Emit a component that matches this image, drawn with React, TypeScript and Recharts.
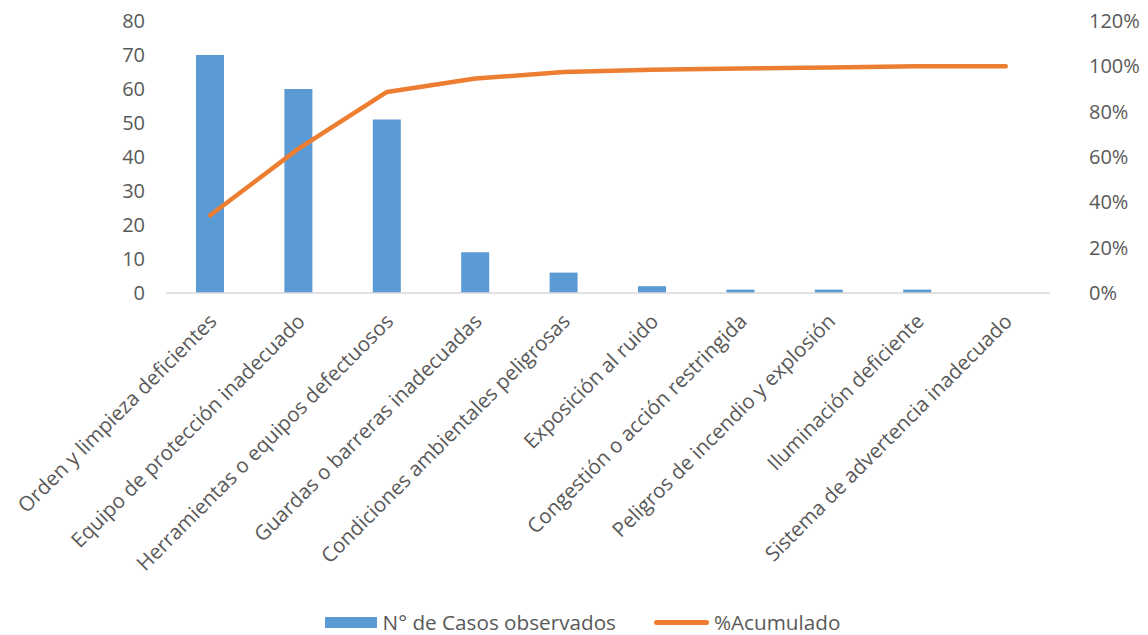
import React from 'react';
import { ComposedChart, Bar, Line, XAxis, YAxis, Legend } from 'recharts';

const categories = [
  'Orden y limpieza deficientes',
  'Equipo de protección inadecuado',
  'Herramientas o equipos defectuosos',
  'Guardas o barreras inadecuadas',
  'Condiciones ambientales peligrosas',
  'Exposición al ruido',
  'Congestión o acción restringida',
  'Peligros de incendio y explosión',
  'Iluminación deficiente',
  'Sistema de advertencia inadecuado',
];
const casos = [70, 60, 51, 12, 6, 2, 1, 1, 1, 0];
const acumulado = [0.343, 0.637, 0.887, 0.946, 0.975, 0.985, 0.99, 0.995, 1.0, 1.0];
const leftTicks = [0, 10, 20, 30, 40, 50, 60, 70, 80];
const rightTicks = [0, 0.2, 0.4, 0.6, 0.8, 1.0, 1.2];

const data = categories.map((c, i) => ({ name: c, casos: casos[i], acum: acumulado[i] }));

const FONT = '"Open Sans", sans-serif';
const TEXT = '#595959';
const FS = 20;

const XTick = (props: any) => {
  const { x, y, payload } = props;
  const ax = x + 2;
  const ay = y + 16;
  return (
    <text
      x={ax}
      y={ay}
      transform={`rotate(-45 ${ax} ${ay})`}
      textAnchor="end"
      dominantBaseline="central"
      fill={TEXT}
      fontSize={20.5}
      fontFamily={FONT}
    >
      {payload.value}
    </text>
  );
};

const LegendContent = () => (
  <div
    style={{
      display: 'flex',
      justifyContent: 'center',
      alignItems: 'center',
      fontFamily: FONT,
      fontSize: 20.7,
      color: TEXT,
      paddingLeft: 17,
      paddingTop: 10,
    }}
  >
    <span style={{ display: 'inline-block', width: 52, height: 11, background: '#5B9BD5', marginRight: 6 }} />
    <span style={{ marginRight: 38 }}>N° de Casos observados</span>
    <span style={{ display: 'inline-block', width: 55, height: 5, borderRadius: 3, background: '#ED7D31', marginRight: 5 }} />
    <span>%Acumulado</span>
  </div>
);

export default function App() {
  return (
    <div style={{ position: 'absolute', left: 0, top: 0 }}>
      <ComposedChart
        width={1148}
        height={635}
        data={data}
        margin={{ top: 21, right: 0, left: 0, bottom: 0 }}
        barCategoryGap="34%"
      >
        <XAxis
          dataKey="name"
          interval={0}
          height={305}
          tick={<XTick />}
          tickLine={false}
          axisLine={{ stroke: '#D9D9D9', strokeWidth: 1.5 }}
        />
        <YAxis
          yAxisId="left"
          domain={[0, 80]}
          ticks={leftTicks}
          width={166}
          axisLine={false}
          tickLine={false}
          tickMargin={15}
          tick={{ fill: TEXT, fontSize: FS, fontFamily: FONT }}
        />
        <YAxis
          yAxisId="right"
          orientation="right"
          domain={[0, 1.2]}
          ticks={rightTicks}
          width={98}
          axisLine={false}
          tickLine={false}
          tickMargin={33}
          tick={{ fill: TEXT, fontSize: FS, fontFamily: FONT, textAnchor: 'start' }}
          tickFormatter={(v: number) => `${Math.round(v * 100)}%`}
        />
        <Bar yAxisId="left" dataKey="casos" fill="#5B9BD5" barSize={28} isAnimationActive={false} />
        <Line
          yAxisId="right"
          dataKey="acum"
          stroke="#ED7D31"
          strokeWidth={4.5}
          strokeLinecap="round"
          strokeLinejoin="round"
          dot={false}
          activeDot={false}
          isAnimationActive={false}
        />
        <Legend verticalAlign="bottom" height={37} content={<LegendContent />} />
      </ComposedChart>
    </div>
  );
}
